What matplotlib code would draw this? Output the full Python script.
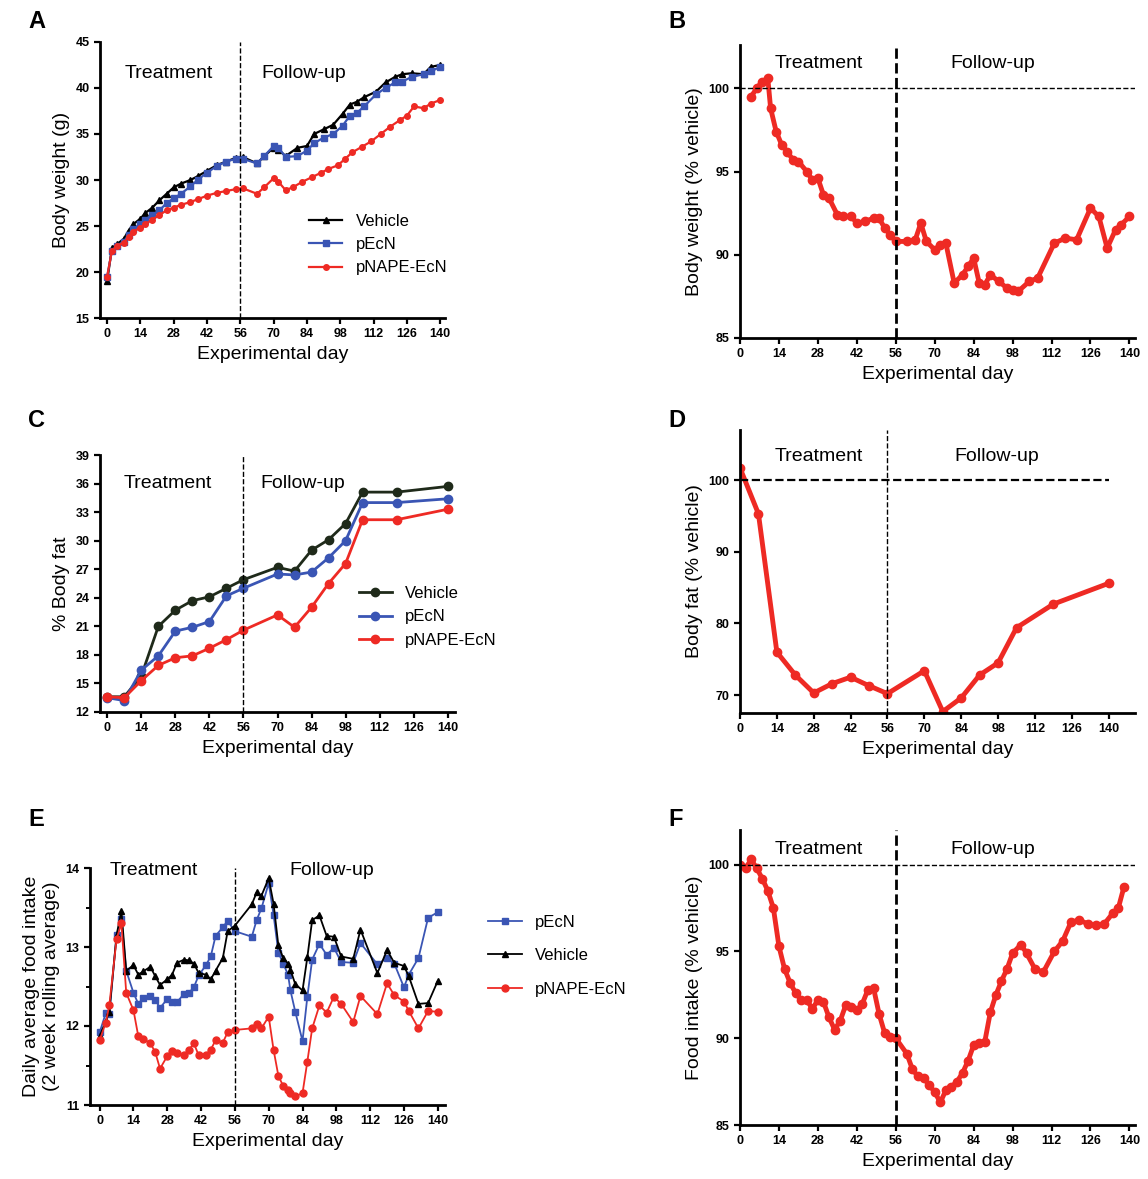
import numpy as np
import matplotlib.pyplot as plt

plt.rcParams["font.family"] = ["Liberation Sans", "DejaVu Sans"]

RED, BLUE, BLACK, DARK = "#ee2a24", "#3a55b4", "#000000", "#1f2a1a"

# ---- A: body weight (g)
a_veh_d = [0, 2, 4, 7, 9, 11, 14, 16, 19, 22, 25, 28, 31, 35, 38, 42, 46, 50, 54, 57, 63, 66, 70, 72, 75, 80, 84,
           87, 91, 95, 99, 102, 105, 108, 113, 117, 121, 124, 128, 133, 136, 140]
a_veh = [19, 22.6, 23, 23.6, 24.5, 25.2, 25.8, 26.4, 27.0, 27.8, 28.5, 29.2, 29.6, 30.0, 30.4, 31.0, 31.6, 32.0,
         32.4, 32.5, 31.8, 32.6, 33.5, 33.3, 32.6, 33.5, 33.7, 35.0, 35.5, 36.0, 37.2, 38.2, 38.5, 39.0, 39.6, 40.6,
         41.2, 41.5, 41.6, 41.5, 42.3, 42.5]
a_pecn = [19.5, 22.3, 22.8, 23.3, 24.0, 24.7, 25.2, 25.7, 26.2, 26.7, 27.5, 28.0, 28.5, 29.3, 30.0, 30.8, 31.5,
          32.0, 32.3, 32.3, 31.8, 32.6, 33.7, 33.5, 32.5, 32.6, 33.2, 34.0, 34.6, 35.0, 35.9, 37.0, 37.3, 38.0,
          39.3, 40.0, 40.6, 40.7, 41.2, 41.5, 41.8, 42.3]
a_nape_d = [0, 2, 4, 7, 9, 11, 14, 16, 19, 22, 25, 28, 31, 35, 38, 42, 46, 50, 54, 57, 63, 66, 70, 72, 75, 78, 82,
            86, 90, 93, 97, 100, 103, 107, 111, 115, 119, 123, 126, 129, 133, 136, 140]
a_nape = [19.5, 22.3, 22.8, 23.2, 23.8, 24.4, 24.8, 25.2, 25.7, 26.2, 26.7, 27.0, 27.3, 27.6, 27.9, 28.3, 28.6,
          28.8, 29.0, 29.1, 28.5, 29.2, 30.2, 29.8, 28.9, 29.2, 29.8, 30.3, 30.8, 31.2, 31.6, 32.3, 33.0, 33.6,
          34.2, 35.0, 35.8, 36.5, 37.0, 38.0, 37.8, 38.3, 38.7]

# ---- B: body weight (% vehicle)
b_d = [4, 6, 8, 10, 11, 13, 15, 17, 19, 21, 24, 26, 28, 30, 32, 35, 37, 40, 42, 45, 48, 50, 52, 54, 56, 60, 63,
       65, 67, 70, 72, 74, 77, 80, 82, 84, 86, 88, 90, 93, 96, 98, 100, 104, 107, 113, 117, 121, 126, 129, 132,
       135, 137, 140]
b_v = [99.5, 100, 100.4, 100.6, 98.8, 97.4, 96.6, 96.2, 95.7, 95.6, 95.0, 94.5, 94.6, 93.6, 93.4, 92.4, 92.3,
       92.3, 91.9, 92.0, 92.2, 92.2, 91.6, 91.2, 90.8, 90.8, 90.9, 91.9, 90.8, 90.3, 90.6, 90.7, 88.3, 88.8, 89.3,
       89.8, 88.3, 88.2, 88.8, 88.4, 88.0, 87.9, 87.8, 88.4, 88.6, 90.7, 91.0, 90.9, 92.8, 92.3, 90.4, 91.5, 91.8,
       92.3]

# ---- C: % body fat
c_d = [0, 7, 14, 21, 28, 35, 42, 49, 56, 70, 77, 84, 91, 98, 105, 119, 140]
c_veh = [13.6, 13.6, 15.8, 21.0, 22.7, 23.7, 24.1, 25.0, 25.9, 27.2, 26.8, 29.0, 30.1, 31.8, 35.1, 35.1, 35.7]
c_pecn = [13.5, 13.2, 16.4, 17.9, 20.5, 20.9, 21.5, 24.2, 25.0, 26.5, 26.4, 26.7, 28.2, 30.0, 34.0, 34.0, 34.4]
c_nape = [13.6, 13.5, 15.3, 16.9, 17.7, 17.9, 18.7, 19.6, 20.6, 22.2, 20.9, 23.0, 25.5, 27.6, 32.2, 32.2, 33.3]

# ---- D: body fat (% vehicle)
d_v = [101.7, 95.3, 76.0, 72.8, 70.3, 71.6, 72.5, 71.3, 70.2, 73.4, 67.7, 69.6, 72.8, 74.5, 79.4, 82.7, 85.6]

# ---- E: daily food intake (2 week rolling average)
e_d = [0, 2.5, 4, 7, 9, 11, 14, 16, 18, 21, 23, 25, 28, 30, 32, 35, 37, 39, 41, 44, 46, 48, 51, 53, 56, 63, 65,
       67, 70, 72, 74, 76, 78, 79, 81, 84, 86, 88, 91, 94, 97, 100, 105, 108, 115, 119, 122, 126, 128, 132, 136,
       140]
e_nape = [11.82, 12.04, 12.26, 13.1, 13.3, 12.42, 12.2, 11.87, 11.84, 11.78, 11.67, 11.46, 11.62, 11.68, 11.66,
          11.63, 11.7, 11.78, 11.63, 11.63, 11.7, 11.82, 11.79, 11.92, 11.95, 11.97, 12.02, 11.97, 12.12, 11.7,
          11.37, 11.24, 11.19, 11.15, 11.11, 11.15, 11.55, 11.97, 12.26, 12.17, 12.37, 12.28, 12.05, 12.38, 12.15,
          12.54, 12.39, 12.31, 12.19, 11.97, 12.19, 12.18]
e_veh = [11.87, 12.06, 12.18, 13.15, 13.46, 12.7, 12.77, 12.65, 12.69, 12.75, 12.63, 12.52, 12.59, 12.65, 12.8,
         12.84, 12.83, 12.79, 12.67, 12.65, 12.59, 12.7, 12.86, 13.2, 13.27, 13.54, 13.69, 13.65, 13.87, 13.55,
         13.02, 12.86, 12.79, 12.71, 12.53, 12.45, 12.87, 13.34, 13.4, 13.14, 13.13, 12.88, 12.85, 13.22, 12.67,
         12.96, 12.8, 12.76, 12.63, 12.28, 12.29, 12.57]
e_pecn = [11.92, 12.16, 12.15, 13.15, 13.35, 12.7, 12.42, 12.28, 12.35, 12.38, 12.33, 12.23, 12.34, 12.3, 12.3,
          12.41, 12.42, 12.49, 12.64, 12.77, 12.88, 13.14, 13.25, 13.33, 13.2, 13.13, 13.34, 13.49, 13.81, 13.41,
          12.93, 12.79, 12.65, 12.45, 12.18, 11.81, 12.37, 12.84, 13.04, 12.9, 12.99, 12.81, 12.8, 13.05, 12.78,
          12.86, 12.79, 12.49, 12.65, 12.86, 13.37, 13.44]

# ---- F: food intake (% vehicle)
f_d = [0, 2, 4, 6, 8, 10, 12, 14, 16, 18, 20, 22, 24, 26, 28, 30, 32, 34, 36, 38, 40, 42, 44, 46, 48, 50, 52, 54,
       56, 60, 62, 64, 66, 68, 70, 72, 74, 76, 78, 80, 82, 84, 86, 88, 90, 92, 94, 96, 98, 101, 103, 106, 109, 113,
       116, 119, 122, 125, 128, 131, 134, 136, 138]
f_v = [100, 99.8, 100.3, 99.8, 99.2, 98.5, 97.5, 95.3, 94.0, 93.2, 92.6, 92.2, 92.2, 91.7, 92.2, 92.1, 91.2, 90.5,
       91.0, 91.9, 91.8, 91.6, 92.0, 92.8, 92.9, 91.4, 90.3, 90.1, 90.0, 89.1, 88.2, 87.8, 87.7, 87.3, 86.9, 86.3,
       87.0, 87.2, 87.5, 88.0, 88.7, 89.6, 89.7, 89.8, 91.5, 92.5, 93.3, 94.0, 94.9, 95.4, 94.9, 94.0, 93.8, 95.0,
       95.6, 96.7, 96.8, 96.6, 96.5, 96.6, 97.2, 97.5, 98.7]

W, H = 1148, 1179
fig = plt.figure(figsize=(W / 100, H / 100), dpi=100)


def ax_px(x0, y0, x1, y1):
    return fig.add_axes([x0 / W, 1 - y1 / H, (x1 - x0) / W, (y1 - y0) / H])


def style(ax, xlab, ylab, fs=9):
    for s in ("top", "right"):
        ax.spines[s].set_visible(False)
    for s in ("left", "bottom"):
        ax.spines[s].set_linewidth(2)
    ax.tick_params(width=1.6, length=4, labelsize=fs)
    for t in ax.get_xticklabels() + ax.get_yticklabels():
        t.set_fontweight("bold")
    ax.set_xticks(range(0, 141, 14))
    ax.set_xlabel(xlab, fontsize=14)
    ax.set_ylabel(ylab, fontsize=14)


def label(txt, x, y):
    fig.text(x / W, 1 - y / H, txt, fontsize=17, fontweight="bold", ha="left", va="center")


def phase(ax, ytxt, x1=0.2, x2=0.6):
    ax.text(x1, ytxt, "Treatment", transform=ax.transAxes, fontsize=14, ha="center")
    ax.text(x2, ytxt, "Follow-up", transform=ax.transAxes, fontsize=14, ha="center")


# A
ax = ax_px(100, 42, 445, 318)
ax.plot(a_veh_d, a_veh, "-^", color=BLACK, ms=4.5, lw=1.6, label="Vehicle")
ax.plot(a_veh_d, a_pecn, "-s", color=BLUE, ms=4.5, lw=1.6, label="pEcN")
ax.plot(a_nape_d, a_nape, "-o", color=RED, ms=4, lw=1.6, label="pNAPE-EcN")
ax.axvline(56, color="k", ls="--", lw=1)
ax.set_xlim(-3, 142); ax.set_ylim(15, 45)
style(ax, "Experimental day", "Body weight (g)")
phase(ax, 0.87, 0.2, 0.59)
ax.legend(frameon=False, fontsize=12, loc="lower right", bbox_to_anchor=(1.05, 0.1), handlelength=2)
label("A", 28, 22)

# B
ax = ax_px(740, 45, 1135, 338)
ax.plot(b_d, b_v, "-o", color=RED, ms=6, lw=3.5)
ax.axhline(100, color="k", ls="--", lw=1)
ax.axvline(56, color="k", ls="--", lw=2)
ax.set_xlim(0, 142); ax.set_ylim(85, 102.6); ax.set_yticks([85, 90, 95, 100])
style(ax, "Experimental day", "Body weight (% vehicle)")
phase(ax, 0.92, 0.2, 0.64)
label("B", 668, 22)

# C
ax = ax_px(100, 455, 455, 712)
ax.plot(c_d, c_veh, "-o", color=DARK, ms=6, lw=2, label="Vehicle")
ax.plot(c_d, c_pecn, "-o", color=BLUE, ms=6, lw=2, label="pEcN")
ax.plot(c_d, c_nape, "-o", color=RED, ms=6, lw=2, label="pNAPE-EcN")
ax.axvline(56, color="k", ls="--", lw=1)
ax.set_xlim(-3, 143); ax.set_ylim(12, 39); ax.set_yticks(range(12, 40, 3))
style(ax, "Experimental day", "% Body fat")
phase(ax, 0.87, 0.19, 0.57)
ax.legend(frameon=False, fontsize=12, loc="center right", bbox_to_anchor=(1.16, 0.37), handlelength=2)
label("C", 28, 420)

# D
ax = ax_px(740, 430, 1135, 713)
ax.plot(c_d, d_v, "-o", color=RED, ms=6, lw=3.5)
ax.plot([0, 140], [100, 100], color="k", ls="--", lw=1.6)
ax.axvline(56, color="k", ls="--", lw=1)
ax.set_xlim(0, 150); ax.set_ylim(67.5, 107); ax.set_yticks([70, 80, 90, 100])
style(ax, "Experimental day", "Body fat (% vehicle)")
phase(ax, 0.89, 0.2, 0.65)
label("D", 668, 420)

# E
ax = ax_px(90, 868, 445, 1105)
ax.plot(e_d, e_pecn, "-s", color=BLUE, ms=5, lw=1.3, label="pEcN")
ax.plot(e_d, e_veh, "-^", color=BLACK, ms=5, lw=1.3, label="Vehicle")
ax.plot(e_d, e_nape, "-o", color=RED, ms=5, lw=1.3, label="pNAPE-EcN")
ax.axvline(56, color="k", ls="--", lw=1)
ax.set_xlim(-4, 143); ax.set_ylim(11, 14); ax.set_yticks([11, 12, 13, 14])
ax.set_yticks([11.5, 12.5, 13.5], minor=True)
ax.tick_params(which="minor", width=1.4, length=3)
style(ax, "Experimental day", "Daily average food intake\n(2 week rolling average)")
phase(ax, 0.97, 0.18, 0.68)
ax.legend(frameon=False, fontsize=12, loc="center left", bbox_to_anchor=(1.08, 0.63), handlelength=2,
          labelspacing=1.1)
label("E", 28, 820)

# F
ax = ax_px(740, 830, 1135, 1125)
ax.plot(f_d, f_v, "-o", color=RED, ms=6, lw=3.5)
ax.axhline(100, color="k", ls="--", lw=1)
ax.axvline(56, color="k", ls="--", lw=2)
ax.set_xlim(0, 142); ax.set_ylim(85, 102); ax.set_yticks([85, 90, 95, 100])
style(ax, "Experimental day", "Food intake (% vehicle)")
phase(ax, 0.92, 0.2, 0.64)
label("F", 668, 820)

fig.savefig("out.png", dpi=100)
